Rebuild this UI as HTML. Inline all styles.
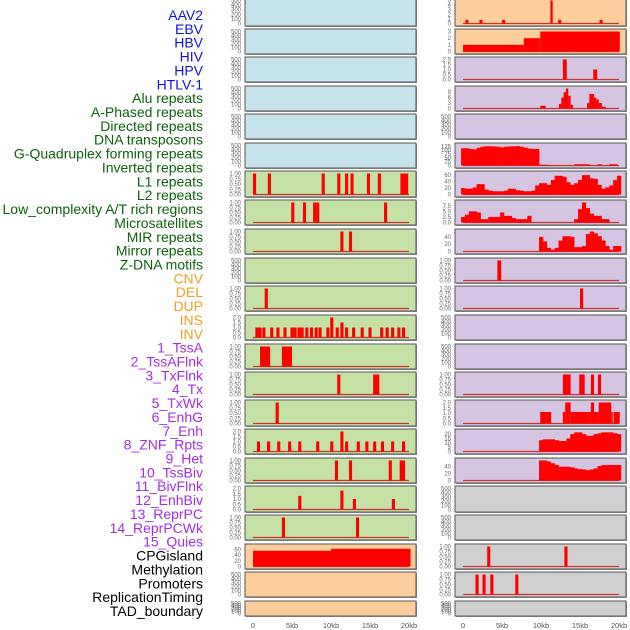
<!DOCTYPE html>
<html><head><meta charset="utf-8"><style>
body{margin:0;background:#fff;width:630px;height:630px;overflow:hidden}
svg{display:block}
</style></head><body>
<svg id="c" width="630" height="630" xmlns="http://www.w3.org/2000/svg"></svg>
<script>
const labels=["AAV2","EBV","HBV","HIV","HPV","HTLV-1","Alu repeats","A-Phased repeats","Directed repeats","DNA transposons","G-Quadruplex forming repeats","Inverted repeats","L1 repeats","L2 repeats","Low_complexity A/T rich regions","Microsatellites","MIR repeats","Mirror repeats","Z-DNA motifs","CNV","DEL","DUP","INS","INV","1_TssA","2_TssAFlnk","3_TxFlnk","4_Tx","5_TxWk","6_EnhG","7_Enh","8_ZNF_Rpts","9_Het","10_TssBiv","11_BivFlnk","12_EnhBiv","13_ReprPC","14_ReprPCWk","15_Quies","CPGisland","Methylation","Promoters","ReplicationTiming","TAD_boundary"];
const labelGroups=[6,13,5,15,5];
const groupColors=["#1010e0","#106010","#f0a020","#a030e0","#000"];
const rowTops=[-2,29,57,86,114,143,171,200,229,258,286,315,344,372,400,429,458,486,515,544,572,601];
const rowBottoms=[26,54,82,111,139,168,197,225,254,283,311,340,369,397,426,454,483,512,540,569,597,616];
const leftFill=["#c6e3eb","#c6e3eb","#c6e3eb","#c6e3eb","#c6e3eb","#c6e3eb","#c5e1a5","#c5e1a5","#c5e1a5","#c5e1a5","#c5e1a5","#c5e1a5","#c5e1a5","#c5e1a5","#c5e1a5","#c5e1a5","#c5e1a5","#c5e1a5","#c5e1a5","#fecd9c","#fecd9c","#fecd9c"];
const rightFill=["#fecd9c","#fecd9c","#d5c5e2","#d5c5e2","#d5c5e2","#d5c5e2","#d5c5e2","#d5c5e2","#d5c5e2","#d5c5e2","#d5c5e2","#d5c5e2","#d5c5e2","#d5c5e2","#d5c5e2","#d5c5e2","#d5c5e2","#d0d0d0","#d0d0d0","#d0d0d0","#d0d0d0","#d0d0d0"];
const xTicks=[0,5,10,15,20];
const xTickLabels=["0","5kb","10kb","15kb","20kb"];
const T500=[0,100,200,300,400,500],T1=[0,0.25,0.5,0.75,1],T2=[0,0.5,1,1.5,2];
const L=(a,v)=>a.map(s=>[s,s+0.4,v===undefined?1:v]);
// left column: [ticks, max, segments]
const leftSegs=[null,null,null,null,null,null,
 L([0,1.9,8.8,10.8,11.8,12.5,14.6,16]).concat([[18.9,19.9,1]]),
 L([4.9,6.4,7.7,8.1,16.8]),
 L([11.2,12.3]),
 null,
 L([1.5]),
 L([0.3,0.7,1.2,2.2,3,3.9,4.8,5.2,5.7,6.1,6.7,7.3,7.9,8.4,9.4,10.6,11.8,12.7,13.8,14.8,16.3,17,17.7,18.5,19.1]).concat([[9.9,10.3,2],[11.2,11.6,1.5]]),
 [[0.9,2.2,1],[3.7,5.0,1]],
 L([10.8]).concat([[15.4,16.2,1]]),
 L([2.9]),
 L([0.5,1.8,3.1,4.5,5.8,8.1,9.9,11.8,13.3,14.4,15.4,16.4,17.7,19.1]).concat([[11.2,11.6,2]]),
 L([10.5,12.3]).concat([[17.4,17.8,1],[18.8,19.5,1]]),
 [[5.8,6.2,1.3],[11.2,11.6,1.8],[12.8,13.2,1],[17.8,18.2,1]],
 L([3.7,13.2]),
 [[0,10,55],[10,20.2,62]],
 null,null];
const leftTicks=[T500,T500,T500,T500,T500,T500,T1,T1,T1,T500,T1,T2,T1,T1,T1,T2,T1,T2,T1,[0,20,40,60],T500,T500];
const leftMax=[500,500,500,500,500,500,1,1,1,500,1,2,1,1,1,2,1,2,1,70,500,500];
const rightSegs=[
 [[0.3,0.7,0.8],[2.1,2.5,0.8],[5,5.4,0.8],[11.2,11.5,5],[12.2,12.6,0.8],[17.5,17.9,0.8]],
 [[0,7.8,1],[7.8,9.9,2],[9.9,20.1,3]],
 [[12.8,13.3,2],[16.7,17.2,1]],
 [[9.9,10.6,1.5],[12.3,12.6,2.5],[12.6,12.9,6],[12.9,13.2,9],[13.2,13.5,11],[13.5,13.8,7],[13.8,14.1,2],[15.9,16.2,3],[16.2,16.8,8],[16.8,17.1,6],[17.1,17.4,5],[17.4,17.8,3],[17.8,18.3,1]],
 null,null,null,null,null,
 [[4.4,4.9,1]],
 L([15]),
 null,null,
 [[12.8,13.8,1],[14.9,15.6,1],[16.4,16.8,1],[17.3,17.7,1]],
 [[9.9,11.3,1.1],[12.8,13.1,1.1],[13.1,13.8,2],[13.8,16.4,1.1],[16.4,16.8,2],[16.8,17.4,1.1],[17.4,19.0,2],[19,19.2,1.1],[19.3,20.1,1.1]],
 null,null,null,null,
 L([3.1,13.0]),
 L([1.6,2.5,3.5,6.7]),
 null];
// binned series, 0.5kb bins from 0 to 20kb
const seriesR6=[112,112,108,105,115,122,125,125,124,122,118,122,124,125,126,122,116,110,108,108,5,5,3,0,0,0,0,0,0,8,8,8,8,0,0,8,0,0,8,8,0];
const seriesR7=[20,18,18,22,32,32,15,12,10,10,10,12,18,18,13,12,10,10,12,28,35,35,30,45,58,58,55,38,30,35,45,60,60,50,48,30,18,22,28,45,58];
const seriesR8=[2.5,3.5,5,5,4.5,1.5,1.5,2.5,2.5,2.5,4.5,3,3,2,1.5,1.5,1.5,3,0,0,0,0,0,0,0,0,0,0,0,1.5,6,9,6.5,4,3,3,1.5,1.5,0,0,0];
const seriesR9=[0,0,0,0,0,0,0,0,0,0,0,0,0,0,0,0,0,0,0,0,40,28,10,5,10,30,42,42,40,12,12,15,48,55,50,42,30,15,5,15,15];
const seriesR16=[0,0,0,0,0,0,0,0,0,0,0,0,0,0,0,0,0,0,0,0,13,14,14,14,13,12,12,15,20,22,22,20,18,18,20,21,22,22,22,21,20];
const seriesR17=[0,0,0,0,0,0,0,0,0,0,0,0,0,0,0,0,0,0,0,0,58,58,55,50,45,40,40,40,38,35,33,32,30,32,35,42,45,45,45,45,45];
const rightSeries={5:seriesR6,6:seriesR7,7:seriesR8,8:seriesR9,15:seriesR16,16:seriesR17};
const rightTicks=[[0,1,2,3,4,5],[0,1,2,3],T2,[0,3,6,9],T500,[0,25,50,75,100,125],[0,20,40,60],[0,2.5,5,7.5],[0,20,40],T1,T1,T500,T500,T1,T2,[0,5,10,15,20],[0,20,40],T500,T500,T1,T1,T500];
const rightMax=[5,3,2,11,500,130,65,9,55,1,1,500,500,1,2,23,58,500,500,1,1,500];

const svg=document.getElementById('c');
const NS="http://www.w3.org/2000/svg";
function mk(tag,attrs,parent){const e=document.createElementNS(NS,tag);for(const k in attrs)e.setAttribute(k,attrs[k]);(parent||svg).appendChild(e);return e;}
// labels
let li=0;
labelGroups.forEach((n,g)=>{for(let k=0;k<n;k++){const t=mk('text',{x:203,y:15+li*13.86+5,'text-anchor':'end','font-family':'Liberation Sans, sans-serif','font-size':14,fill:groupColors[g]});t.textContent=labels[li];


li++;}});
function fmt(v,ticks){const dec=ticks.some(t=>Math.round(t*100)%100!==0)?(ticks.some(t=>Math.round(t*100)%10!==0&&Math.round(t*10)%10!==0&&ticks.includes(0.25))?2:(ticks.includes(2.5)?1:1)):0;
 if(ticks.includes(0.25))return v.toFixed(2); if(dec)return v.toFixed(1); return String(v);}
function panel(col,r,segs,series,ticks,max,fill){
 const x0=col?455:245,x1=col?626:416,z=col?463:253,k=7.8;
 const top=rowTops[r],bot=rowBottoms[r];
 const g=mk('g',{});
 
 
 mk('rect',{x:x0+1,y:top+1,width:x1-x0,height:bot-top,fill:'#999'},g);
 mk('rect',{x:x0,y:top,width:x1-x0,height:bot-top,fill:fill,stroke:'#555','stroke-width':1},g);
 const by=bot-2.5,ph=(bot-top)-5;
 const xs=v=>z+v*k, ys=v=>by-v/max*ph;
 ticks.forEach(t=>{const tt=mk('text',{x:x0-4,y:ys(t)+2,'text-anchor':'end','font-family':'Liberation Sans, sans-serif','font-size':6,fill:'#666'},g);tt.textContent=fmt(t,ticks);
  
  });
 if(segs||series){
  const bl=mk('line',{x1:xs(0),x2:xs(20),y1:by,y2:by,stroke:'#d03030','stroke-width':1.2},g);
  
  
 }
 if(segs)segs.forEach(s=>{const b=mk('rect',{x:xs(s[0]),y:ys(s[2]),width:Math.max(1.5,xs(s[1])-xs(s[0])),height:by-ys(s[2]),fill:'#ff0000'},g);
  
  });
 if(series)series.forEach((v,i)=>{if(v<=0)return;const b=mk('rect',{x:xs(i*0.5-0.25),y:ys(v),width:0.5*k+0.3,height:by-ys(v),fill:'#ff0000'},g);
  
  });
}
for(let r=0;r<22;r++){
 panel(0,r,leftSegs[r],null,leftTicks[r],leftMax[r],leftFill[r]);
 panel(1,r,rightSegs[r],rightSeries[r]||null,rightTicks[r],rightMax[r],rightFill[r]);
}
[253,463].forEach(z=>xTicks.forEach((v,i)=>{const t=mk('text',{x:z+v*7.8,y:628,'text-anchor':'middle','font-family':'Liberation Sans, sans-serif','font-size':7.5,fill:'#555'});t.textContent=xTickLabels[i];
 
 }));
</script>
</body></html>
